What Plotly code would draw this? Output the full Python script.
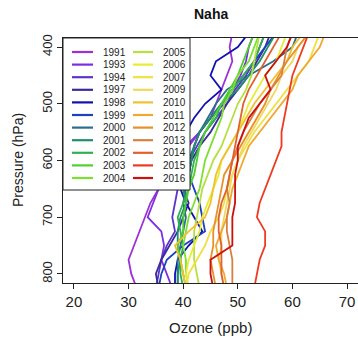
import plotly.graph_objects as go

# ---------------- data ----------------
pressure = [375, 400, 425, 450, 475, 500, 525, 550, 575, 600, 625, 650, 675, 700, 725, 750, 775, 800, 825]

years = ["1991", "1993", "1994", "1997", "1998", "1999", "2000", "2001", "2002", "2003", "2004",
         "2005", "2006", "2007", "2009", "2010", "2011", "2012", "2013", "2014", "2015", "2016"]

colors = ["#9B30D9", "#7B2FE0", "#5B35C8", "#3A2A9A", "#1010B0", "#1E40C0", "#2A6F8A", "#1F8F6A",
          "#30B050", "#50D030", "#7CE030", "#B5E040", "#E5EE30", "#F0E040", "#F0D860", "#F0C030",
          "#F0A830", "#E8902A", "#D88040", "#E06030", "#EE3A20", "#CC1010"]

oz_1991 = [49, 48.5, 49, 48, 47, 46, 45, 43, 41, 39, 37.5, 35.5, 34, 33, 32, 31, 30, 30.5, 31.5]
oz_1993 = [53, 52, 51.5, 50.5, 49, 47.5, 45, 43, 40.5, 38.5, 37, 35.5, 34.5, 33.5, 36, 36.5, 36, 37, 38]
oz_1994 = [55, 54, 53, 51.5, 49.5, 48, 46, 44, 42.5, 41, 40, 39, 38.5, 38, 38.5, 37, 36, 35.5, 35]
oz_1997 = [56, 55, 53.5, 52, 50, 48, 46.5, 45, 43, 41.5, 41, 40, 41, 40, 39, 37.5, 36, 35, 35.5]
oz_1998 = [52, 50, 46, 45, 47, 44, 42, 40.5, 40, 41, 40, 39.5, 40.5, 42, 43.5, 41, 39, 38.5, 38.5]
oz_1999 = [57, 55, 53, 51, 49, 47, 45, 43, 42, 41.5, 41, 42, 43, 43.5, 44, 40, 37, 36, 35.5]
oz_2000 = [61, 60, 56.5, 52, 48, 46, 44.5, 43, 42, 41, 41, 40.5, 40, 40.5, 40, 39.5, 39, 39, 39]
oz_2001 = [57, 55.5, 54, 52, 50, 47, 45, 43, 42, 41.5, 41, 40, 40.5, 39.5, 39, 39, 39.5, 39, 39]
oz_2002 = [55, 54, 53, 51, 49, 47, 46, 44, 43, 42, 41.5, 41, 40, 39, 39.5, 40, 39.5, 39.5, 40]
oz_2003 = [53, 52, 51, 50, 48.5, 47, 45.5, 44, 43, 42.5, 42, 41, 40.5, 40, 40, 39, 39.5, 40, 40.5]
oz_2004 = [54, 53, 52, 50, 49, 47.5, 47, 46, 45, 44, 43.5, 43, 42, 41, 40.5, 40, 40.5, 40.5, 41]
oz_2005 = [54, 53.5, 53, 52.5, 51.5, 50, 49, 48, 47, 45.5, 44.5, 43.5, 43, 42.5, 42, 42, 42, 42.5, 43]
oz_2006 = [59, 58, 57, 55, 53.5, 52, 51, 50, 48.5, 47, 46.5, 45.5, 44.5, 43.5, 43, 42, 41, 40.5, 41]
oz_2007 = [65, 64, 63, 61, 59, 57, 55, 53, 51.5, 50, 49, 48, 47.5, 46.5, 45, 44, 42.5, 41, 40.5]
oz_2009 = [63, 61, 60, 58, 57, 55.5, 54, 52.5, 51, 50, 49, 48.5, 48, 47.5, 47, 47, 46.5, 47, 47.5]
oz_2010 = [62, 60, 59, 57, 55, 53, 51.5, 50, 48.5, 47, 46, 45.5, 45, 44, 41, 38.5, 39.5, 40, 40.5]
oz_2011 = [66, 65, 63, 61, 60, 58, 56, 54, 52, 51, 50, 49, 48.5, 48, 47, 46, 46.5, 47.5, 48]
oz_2012 = [63, 61, 59, 57.5, 56, 55, 53.5, 52, 50.5, 49, 47.5, 47, 46.5, 46, 45.5, 45.5, 45, 45.5, 46]
oz_2013 = [60, 59, 58.5, 58, 56, 54, 52.5, 51, 50, 49, 48.5, 48, 48.5, 48, 48, 48.5, 49, 49, 49]
oz_2014 = [58, 56.5, 55, 53.5, 52, 51, 50.5, 50, 49.5, 49, 48.5, 48, 47, 46.5, 46.5, 47, 47, 47, 47.5]
oz_2015 = [63, 62, 61, 60, 59.5, 59, 58.5, 58, 58, 57, 56, 55, 54, 53.5, 55, 55, 54, 53.5, 53]
oz_2016 = [60, 59, 57, 55, 56, 54, 52, 51, 50, 50, 49.5, 49.5, 49.5, 49, 49, 49, 45, 45, 45.5]

profiles = [oz_1991, oz_1993, oz_1994, oz_1997, oz_1998, oz_1999, oz_2000, oz_2001, oz_2002, oz_2003,
            oz_2004, oz_2005, oz_2006, oz_2007, oz_2009, oz_2010, oz_2011, oz_2012, oz_2013, oz_2014,
            oz_2015, oz_2016]

x_ticks = [20, 30, 40, 50, 60, 70]
y_ticks = [400, 500, 600, 700, 800]

# ---------------- figure ----------------
W, H = 358, 339
ML, MR, MT, MB = 63, 0, 38, 56
PW, PH = W - ML - MR, H - MT - MB

fig = go.Figure()
for yr, col, prof in zip(years, colors, profiles):
    fig.add_trace(go.Scatter(x=prof, y=pressure, mode="lines", name=yr,
                             line=dict(color=col, width=1.8), showlegend=False))

def px(xp):
    return (xp - ML) / PW

def py(yp):
    return (MT + PH - yp) / PH

shapes = []
annotations = []
# legend box
shapes.append(dict(type="rect", xref="paper", yref="paper", x0=px(63), x1=px(190), y0=py(190), y1=py(38),
                   fillcolor="white", line=dict(color="#222222", width=1), layer="above"))
nrows = 11
for i, (yr, col) in enumerate(zip(years, colors)):
    c, r = divmod(i, nrows)
    yc = 52 + r * 12.6
    lx0, lx1, tx = (72, 93, 101) if c == 0 else (133, 153, 161)
    shapes.append(dict(type="line", xref="paper", yref="paper", x0=px(lx0), x1=px(lx1), y0=py(yc), y1=py(yc),
                       line=dict(color=col, width=2.2), layer="above"))
    annotations.append(dict(text=yr, xref="paper", yref="paper", x=px(tx), y=py(yc), xanchor="left",
                            yanchor="middle", showarrow=False, font=dict(size=10, color="#222222")))

annotations.append(dict(text="<b>Naha</b>", xref="paper", yref="paper", x=px(211), y=py(14),
                        xanchor="center", yanchor="middle", showarrow=False, font=dict(size=14, color="#111111")))
annotations.append(dict(text="Ozone (ppb)", xref="paper", yref="paper", x=px(210), y=py(327),
                        xanchor="center", yanchor="middle", showarrow=False, font=dict(size=15, color="#222222")))
annotations.append(dict(text="Pressure (hPa)", xref="paper", yref="paper", x=px(18), y=py(160),
                        xanchor="center", yanchor="middle", showarrow=False, textangle=-90,
                        font=dict(size=14, color="#222222")))

fig.update_layout(
    width=W, height=H,
    margin=dict(l=ML, r=MR, t=MT, b=MB, pad=0),
    paper_bgcolor="white", plot_bgcolor="white",
    font=dict(family="Liberation Sans, Arial, sans-serif", color="#222222"),
    shapes=shapes, annotations=annotations, showlegend=False,
)
fig.update_xaxes(range=[18, 72], tickvals=x_ticks, ticks="outside", ticklen=5, tickcolor="#222222",
                 showline=True, linecolor="#222222", linewidth=1, mirror=True, showgrid=False, zeroline=False,
                 tickfont=dict(size=15))
fig.update_yaxes(range=[816, 384], tickvals=y_ticks, ticks="outside", ticklen=5, tickcolor="#222222",
                 showline=True, linecolor="#222222", linewidth=1, mirror=True, showgrid=False, zeroline=False,
                 tickangle=-90, tickfont=dict(size=13))

fig.write_html("out.html")
